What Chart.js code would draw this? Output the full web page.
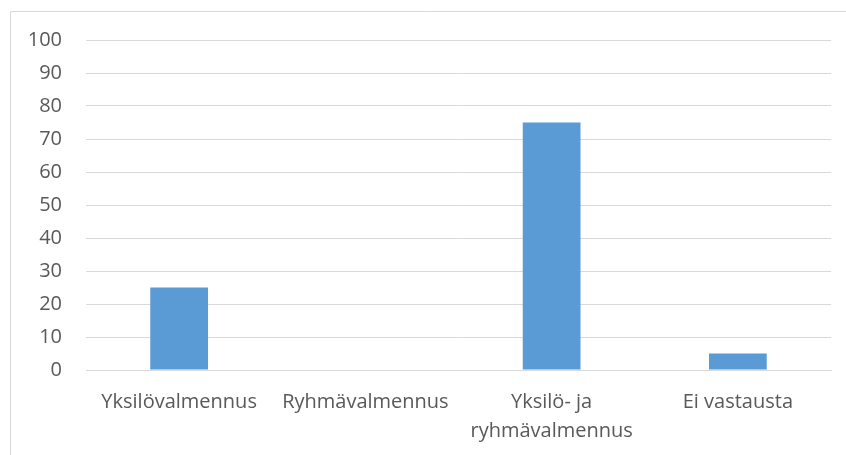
<!DOCTYPE html>
<html>
<head>
<meta charset="utf-8">
<script src="https://cdn.jsdelivr.net/npm/chart.js@4/dist/chart.umd.min.js"></script>
<style>
  html, body { margin: 0; padding: 0; background: #fff; }
  #wrap { width: 846px; height: 455px; position: relative; }
</style>
</head>
<body>
<div id="wrap"><canvas id="chart"></canvas></div>
<script>
// Valmennusmuoto ja osuudet (%)
const categories = ['Yksilövalmennus', 'Ryhmävalmennus', ['Yksilö- ja', 'ryhmävalmennus'], 'Ei vastausta'];
const values = [25, 0, 75, 5];
const yTicks = [0, 10, 20, 30, 40, 50, 60, 70, 80, 90, 100];

// Kehys kaavion ympärillä
const frame = {
  id: 'frame',
  beforeDraw(chart) {
    const ctx = chart.ctx;
    ctx.save();
    ctx.strokeStyle = '#d9d9d9';
    ctx.lineWidth = 1;
    ctx.beginPath();
    ctx.moveTo(10.5, 455);
    ctx.lineTo(10.5, 11.5);
    ctx.lineTo(846, 11.5);
    ctx.stroke();
    ctx.restore();
  }
};

const font = { family: "'Open Sans', 'Noto Sans', sans-serif", size: 20, lineHeight: 1.45 };

new Chart(document.getElementById('chart'), {
  type: 'bar',
  data: {
    labels: categories,
    datasets: [{
      data: values,
      backgroundColor: '#5b9bd5',
      borderWidth: 0,
      categoryPercentage: 0.62,
      barPercentage: 0.5
    }]
  },
  options: {
    responsive: true,
    maintainAspectRatio: false,
    animation: false,
    layout: { padding: { top: 40, right: 15, left: 0, bottom: 0 } },
    plugins: { legend: { display: false }, tooltip: { enabled: false } },
    scales: {
      x: {
        grid: { display: false, drawTicks: false },
        border: { color: '#d9d9d9', width: 1 },
        ticks: { color: '#595959', font, padding: 18, maxRotation: 0, autoSkip: false },
        afterFit(scale) { scale.height = 85; }
      },
      y: {
        min: 0,
        max: 100,
        afterBuildTicks(scale) { scale.ticks = yTicks.map(v => ({ value: v })); },
        grid: { color: '#d9d9d9', drawTicks: false },
        border: { display: false },
        ticks: { color: '#595959', font, padding: 24 },
        afterFit(scale) { scale.width = 86; }
      }
    }
  },
  plugins: [frame]
});
</script>
</body>
</html>
